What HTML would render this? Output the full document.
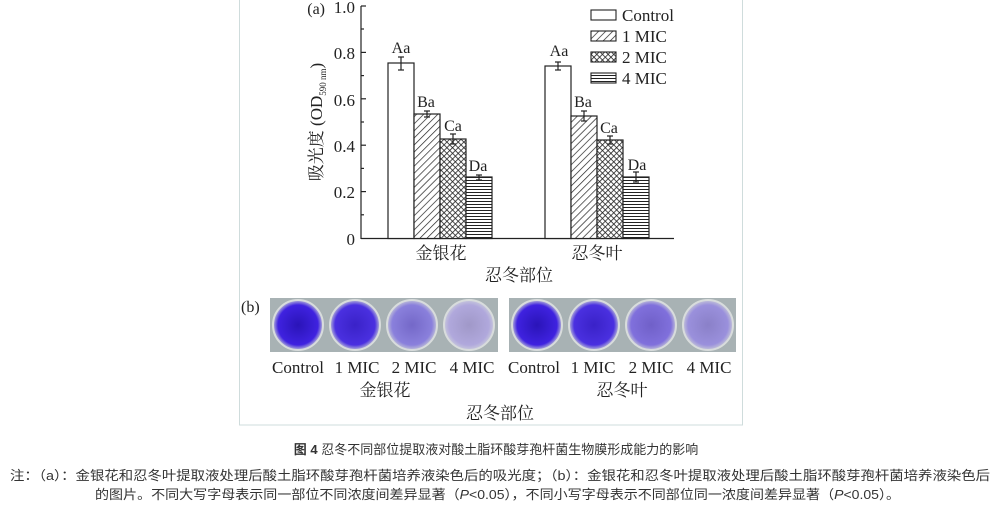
<!DOCTYPE html>
<html><head><meta charset="utf-8"><style>
body{margin:0;background:#fff;}
svg{display:block;font-family:"Liberation Serif","Noto Serif CJK SC",serif;}
.s{font-family:"Liberation Sans","Noto Sans CJK SC",sans-serif;}
</style></head><body>
<svg width="992" height="507" viewBox="0 0 992 507" xmlns="http://www.w3.org/2000/svg">
<defs>
<pattern id="diag" width="5" height="5" patternUnits="userSpaceOnUse" patternTransform="rotate(45)"><rect width="5" height="5" fill="#fff"/><line x1="0" y1="0" x2="0" y2="5" stroke="#222" stroke-width="1.4"/></pattern>
<pattern id="cross" width="4" height="4" patternUnits="userSpaceOnUse" patternTransform="rotate(45)"><rect width="4" height="4" fill="#fff"/><line x1="0" y1="0" x2="0" y2="4" stroke="#222" stroke-width="1.6"/><line x1="0" y1="0" x2="4" y2="0" stroke="#222" stroke-width="1.6"/></pattern>
<pattern id="horz" width="4" height="3" patternUnits="userSpaceOnUse"><rect width="4" height="3" fill="#fff"/><line x1="0" y1="0.5" x2="4" y2="0.5" stroke="#222" stroke-width="1"/></pattern>
<radialGradient id="w1"><stop offset="0" stop-color="#2a14b8"/><stop offset="0.8" stop-color="#3f22e0"/><stop offset="1" stop-color="#b8b8d8"/></radialGradient>
<radialGradient id="w2"><stop offset="0" stop-color="#3a22c8"/><stop offset="0.8" stop-color="#4a30e0"/><stop offset="1" stop-color="#b8b8d8"/></radialGradient>
<radialGradient id="w3"><stop offset="0" stop-color="#7468c8"/><stop offset="0.8" stop-color="#8a80dc"/><stop offset="1" stop-color="#c0c0d8"/></radialGradient>
<radialGradient id="w4"><stop offset="0" stop-color="#a098c8"/><stop offset="0.8" stop-color="#b0a8dc"/><stop offset="1" stop-color="#c8c8dc"/></radialGradient>
<radialGradient id="w5"><stop offset="0" stop-color="#7060c8"/><stop offset="0.8" stop-color="#8070dc"/><stop offset="1" stop-color="#c0c0d8"/></radialGradient>
<radialGradient id="w6"><stop offset="0" stop-color="#8a80c8"/><stop offset="0.8" stop-color="#9a90dc"/><stop offset="1" stop-color="#c4c4d8"/></radialGradient>
</defs>
<rect x="239.5" y="-1" width="503" height="426" fill="none" stroke="#cfdcdc" stroke-width="1"/>
<g stroke="#222" stroke-width="1.2" fill="none">
<line x1="361" y1="6" x2="361" y2="239"/>
<line x1="361" y1="238.5" x2="674" y2="238.5"/>
<line x1="361" y1="6" x2="366" y2="6"/><line x1="361" y1="52.4" x2="366" y2="52.4"/><line x1="361" y1="98.8" x2="366" y2="98.8"/><line x1="361" y1="145.2" x2="366" y2="145.2"/><line x1="361" y1="191.6" x2="366" y2="191.6"/>
<line x1="361" y1="29" x2="364" y2="29"/><line x1="361" y1="75.6" x2="364" y2="75.6"/><line x1="361" y1="122" x2="364" y2="122"/><line x1="361" y1="168.4" x2="364" y2="168.4"/><line x1="361" y1="214.8" x2="364" y2="214.8"/>
</g>
<g font-size="17" fill="#222" text-anchor="end">
<text x="355" y="13">1.0</text><text x="355" y="59">0.8</text><text x="355" y="106">0.6</text><text x="355" y="152">0.4</text><text x="355" y="198">0.2</text><text x="355" y="245">0</text>
</g>
<text x="325" y="14" font-size="16" fill="#222" text-anchor="end">(a)</text>
<text transform="translate(322,122) rotate(-90)" font-size="17" fill="#222" text-anchor="middle">吸光度 (OD<tspan font-size="9" dy="4">590 nm</tspan><tspan dy="-4">)</tspan></text>
<g stroke="#222" stroke-width="1.2">
<rect x="388" y="63" width="26" height="175.5" fill="#fff"/>
<rect x="414" y="114" width="26" height="124.5" fill="url(#diag)"/>
<rect x="440" y="139" width="26" height="99.5" fill="url(#cross)"/>
<rect x="466" y="177" width="26" height="61.5" fill="url(#horz)"/>
<rect x="545" y="66" width="26" height="172.5" fill="#fff"/>
<rect x="571" y="116" width="26" height="122.5" fill="url(#diag)"/>
<rect x="597" y="140" width="26" height="98.5" fill="url(#cross)"/>
<rect x="623" y="177" width="26" height="61.5" fill="url(#horz)"/>
</g>
<g stroke="#222" stroke-width="1.2">
<line x1="401" y1="57" x2="401" y2="70"/><line x1="398" y1="57" x2="404" y2="57"/><line x1="398" y1="70" x2="404" y2="70"/>
<line x1="427" y1="111" x2="427" y2="117"/><line x1="424" y1="111" x2="430" y2="111"/><line x1="424" y1="117" x2="430" y2="117"/>
<line x1="453" y1="134" x2="453" y2="144"/><line x1="450" y1="134" x2="456" y2="134"/><line x1="450" y1="144" x2="456" y2="144"/>
<line x1="479" y1="175" x2="479" y2="180"/><line x1="476" y1="175" x2="482" y2="175"/><line x1="476" y1="180" x2="482" y2="180"/>
<line x1="558" y1="62" x2="558" y2="70"/><line x1="555" y1="62" x2="561" y2="62"/><line x1="555" y1="70" x2="561" y2="70"/>
<line x1="584" y1="111" x2="584" y2="121"/><line x1="581" y1="111" x2="587" y2="111"/><line x1="581" y1="121" x2="587" y2="121"/>
<line x1="610" y1="136" x2="610" y2="144"/><line x1="607" y1="136" x2="613" y2="136"/><line x1="607" y1="144" x2="613" y2="144"/>
<line x1="636" y1="172" x2="636" y2="182"/><line x1="633" y1="172" x2="639" y2="172"/><line x1="633" y1="182" x2="639" y2="182"/>
</g>
<g font-size="16" fill="#222" text-anchor="middle">
<text x="401" y="53">Aa</text><text x="426" y="107">Ba</text><text x="453" y="131">Ca</text><text x="478" y="171">Da</text>
<text x="559" y="56">Aa</text><text x="583" y="107">Ba</text><text x="609" y="133">Ca</text><text x="637" y="170">Da</text>
</g>
<g font-size="17" fill="#222" text-anchor="middle">
<text x="441" y="259">金银花</text><text x="597" y="259">忍冬叶</text><text x="519" y="281">忍冬部位</text>
</g>
<g stroke="#222" stroke-width="1.1">
<rect x="591" y="10" width="25" height="10" fill="#fff"/>
<rect x="591" y="31" width="25" height="10" fill="url(#diag)"/>
<rect x="591" y="52" width="25" height="10" fill="url(#cross)"/>
<rect x="591" y="73" width="25" height="10" fill="url(#horz)"/>
</g>
<g font-size="17" fill="#222">
<text x="622" y="21">Control</text><text x="622" y="42">1 MIC</text><text x="622" y="63">2 MIC</text><text x="622" y="84">4 MIC</text>
</g>
<text x="241" y="312" font-size="16" fill="#222">(b)</text>
<rect x="270" y="298" width="228" height="54" fill="#a8b2b4"/>
<rect x="509" y="298" width="227" height="54" fill="#a8b2b4"/>
<g stroke="#d8dcdc" stroke-width="2">
<circle cx="298" cy="325" r="25" fill="url(#w1)"/>
<circle cx="355" cy="325" r="25" fill="url(#w2)"/>
<circle cx="412" cy="325" r="25" fill="url(#w3)"/>
<circle cx="469" cy="325" r="25" fill="url(#w4)"/>
<circle cx="537" cy="325" r="25" fill="url(#w1)"/>
<circle cx="594" cy="325" r="25" fill="url(#w2)"/>
<circle cx="651" cy="325" r="25" fill="url(#w5)"/>
<circle cx="708" cy="325" r="25" fill="url(#w6)"/>
</g>
<g font-size="17" fill="#222" text-anchor="middle">
<text x="298" y="373">Control</text><text x="357" y="373">1 MIC</text><text x="414" y="373">2 MIC</text><text x="472" y="373">4 MIC</text>
<text x="534" y="373">Control</text><text x="593" y="373">1 MIC</text><text x="651" y="373">2 MIC</text><text x="709" y="373">4 MIC</text>
<text x="385" y="396">金银花</text><text x="622" y="396">忍冬叶</text><text x="500" y="419">忍冬部位</text>
</g>
<g class="s" font-size="13" fill="#333">
<text x="496" y="454" text-anchor="middle"><tspan font-weight="bold">图 4</tspan> 忍冬不同部位提取液对酸土脂环酸芽孢杆菌生物膜形成能力的影响</text>
<text x="10" y="480" textLength="980" lengthAdjust="spacingAndGlyphs">注：（a）：金银花和忍冬叶提取液处理后酸土脂环酸芽孢杆菌培养液染色后的吸光度；（b）：金银花和忍冬叶提取液处理后酸土脂环酸芽孢杆菌培养液染色后</text>
<text x="95" y="499" textLength="805" lengthAdjust="spacingAndGlyphs">的图片。不同大写字母表示同一部位不同浓度间差异显著（<tspan font-style="italic">P</tspan>&lt;0.05），不同小写字母表示不同部位同一浓度间差异显著（<tspan font-style="italic">P</tspan>&lt;0.05）。</text>
</g>
</svg>
</body></html>
